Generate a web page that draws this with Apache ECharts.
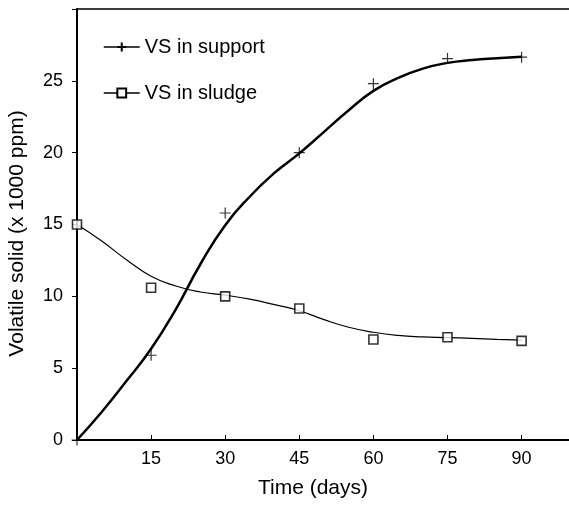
<!DOCTYPE html>
<html>
<head>
<meta charset="utf-8">
<script src="https://cdn.jsdelivr.net/npm/echarts@6/dist/echarts.min.js"></script>
<style>html,body{margin:0;padding:0;background:#fff;}#c{width:569px;height:505px;}</style>
</head>
<body>
<div id="c"></div>
<script>
const days = [0, 15, 30, 45, 60, 75, 90];
const supportVS = [0, 5.9, 15.8, 20.0, 24.8, 26.55, 26.65];
const sludgeVS = [15.0, 10.6, 10.0, 9.15, 7.0, 7.15, 6.9];
const fitDays = [0, 5, 10, 15, 20, 25, 30, 35, 40, 45, 50, 55, 60, 65, 70, 75, 80, 85, 90];
const supportFit = [0, 1.95, 4.1, 6.35, 9.1, 12.25, 14.95, 16.95, 18.6, 19.95, 21.45, 22.95, 24.3, 25.2, 25.85, 26.25, 26.45, 26.57, 26.67];
const sludgeFit = [15.0, 13.85, 12.55, 11.4, 10.72, 10.3, 10.08, 9.8, 9.42, 9.0, 8.38, 7.85, 7.5, 7.28, 7.18, 7.13, 7.07, 7.0, 6.95];
const xTicks = [15, 30, 45, 60, 75, 90];
const yTicks = [0, 5, 10, 15, 20, 25];

const pair = (xs, ys) => xs.map((x, i) => [x, ys[i]]);
const plusPath = 'path://M0,5L10,5M5,0L5,10';
const font = 'Liberation Sans, Arial, sans-serif';

const chart = echarts.init(document.getElementById('c'), null, {renderer: 'canvas'});
chart.setOption({
  backgroundColor: '#fff',
  animation: false,
  grid: {left: 77, top: 9, right: -2, bottom: 65, outerBoundsMode: 'none', containLabel: false,
    show: true, borderColor: '#000', borderWidth: 1.5, backgroundColor: 'transparent'},
  legend: {
    data: ['VS in support', 'VS in sludge'],
    orient: 'vertical', left: 98, top: 32,
    itemWidth: 36, itemHeight: 11, itemGap: 26,
    textStyle: {fontFamily: font, fontSize: 20, color: '#000', lineHeight: 20},
    lineStyle: {width: 1.5},
    selectedMode: false
  },
  xAxis: {
    type: 'value', min: 0, max: 100, interval: 15,
    name: 'Time (days)', nameLocation: 'middle', nameGap: 38,
    nameTextStyle: {fontFamily: font, fontSize: 21, color: '#000', padding: [0, 22, 0, 0]},
    axisLine: {lineStyle: {color: '#000', width: 2}},
    axisTick: {inside: true, length: 5, lineStyle: {color: '#000', width: 1}},
    axisLabel: {fontFamily: font, fontSize: 18, color: '#000', margin: 10,
      formatter: v => xTicks.indexOf(v) >= 0 ? String(v) : ''},
    splitLine: {show: false}
  },
  yAxis: {
    type: 'value', min: 0, max: 30, interval: 5,
    name: 'Volatile solid (x 1000 ppm)', nameLocation: 'middle', nameGap: 49,
    nameTextStyle: {fontFamily: font, fontSize: 21, color: '#000', padding: [0, 18, 0, 0]},
    axisLine: {lineStyle: {color: '#000', width: 2}},
    axisTick: {inside: false, length: 5, lineStyle: {color: '#000', width: 1}},
    axisLabel: {fontFamily: font, fontSize: 18, color: '#000', margin: 14,
      formatter: v => yTicks.indexOf(v) >= 0 ? String(v) : ''},
    splitLine: {show: false}
  },
  series: [
    {
      name: 'VS in support', type: 'line', data: pair(fitDays, supportFit), smooth: 0.5,
      showSymbol: false, symbol: plusPath, symbolSize: 10,
      lineStyle: {color: '#000', width: 2.5},
      itemStyle: {color: '#000', borderColor: '#000', borderWidth: 1.2},
      z: 3
    },
    {
      name: 'VS in sludge', type: 'line', data: pair(fitDays, sludgeFit), smooth: 0.5,
      showSymbol: false, symbol: 'rect', symbolSize: 9,
      lineStyle: {color: '#000', width: 1.2},
      itemStyle: {color: '#fff', borderColor: '#000', borderWidth: 1.5},
      z: 3
    },
    {
      name: 'support points', type: 'scatter', data: pair(days, supportVS),
      symbol: plusPath, symbolSize: 11,
      itemStyle: {color: '#000', borderColor: '#000', borderWidth: 1.2},
      z: 4
    },
    {
      name: 'sludge points', type: 'scatter', data: pair(days, sludgeVS),
      symbol: 'rect', symbolSize: 9,
      itemStyle: {color: '#fff', borderColor: '#000', borderWidth: 1.6},
      z: 4
    }
  ]
});
</script>
</body>
</html>
